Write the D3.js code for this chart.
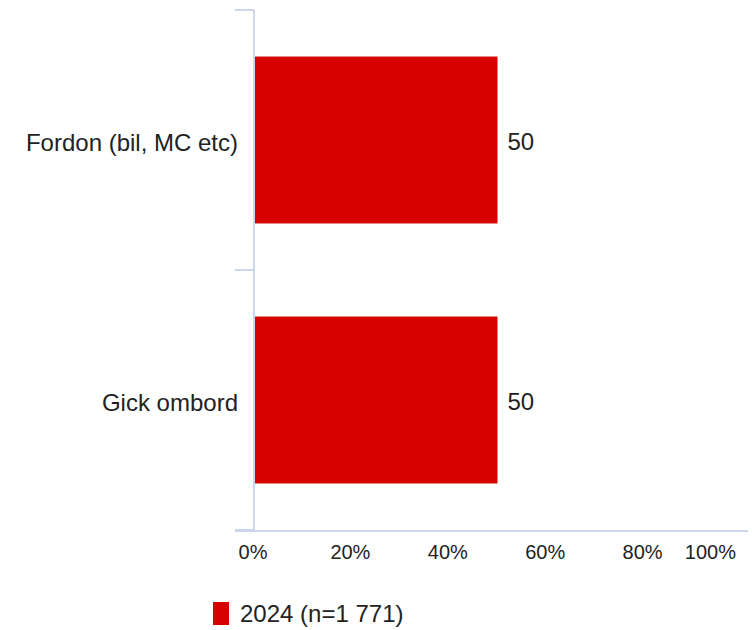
<!DOCTYPE html>
<html><head><meta charset="utf-8">
<script src="https://cdn.jsdelivr.net/npm/d3@7"></script>
<style>body{margin:0;background:#fff;}svg{display:block;font-family:"Liberation Sans",Arial,sans-serif;}</style>
</head><body>
<svg id="c" width="752" height="630"></svg>
<script>
const categories = ["Fordon (bil, MC etc)", "Gick ombord"];
const values = [50, 50];
const xTicks = [0, 20, 40, 60, 80, 100];
const seriesName = "2024 (n=1 771)";

const svg = d3.select("#c");
const axisColor = "#ccd6eb";
const textColor = "#222";
const barColor = "#d60000";

const x = d3.scaleLinear().domain([0, 100]).range([254, 741]);
const y = d3.scaleBand().domain(categories).range([10, 530]).paddingInner(0.358).paddingOuter(0.179);
const step = y.step();
const boundaries = categories.map(c => y(c) - step * y.paddingOuter()).concat([530]);

// axes lines
svg.append("line").attr("x1", 254).attr("x2", 254).attr("y1", 10).attr("y2", 531)
  .attr("stroke", axisColor).attr("stroke-width", 2);
svg.append("line").attr("x1", 235).attr("x2", 748).attr("y1", 531).attr("y2", 531)
  .attr("stroke", axisColor).attr("stroke-width", 2);
svg.selectAll(".ytick").data(boundaries).enter().append("line")
  .attr("x1", 235).attr("x2", 254).attr("y1", d => d).attr("y2", d => d)
  .attr("stroke", axisColor).attr("stroke-width", 2);

// bars
svg.selectAll(".bar").data(values).enter().append("rect")
  .attr("x", x(0) + 1).attr("y", (d, i) => y(categories[i]))
  .attr("width", d => x(d) - x(0) - 1).attr("height", y.bandwidth())
  .attr("fill", barColor);

// value labels
svg.selectAll(".val").data(values).enter().append("text")
  .attr("x", d => x(d) + 10).attr("y", (d, i) => y(categories[i]) + y.bandwidth() / 2 + 10)
  .attr("font-size", 24).attr("fill", textColor).text(d => d);

// category labels
svg.selectAll(".cat").data(categories).enter().append("text")
  .attr("x", 238).attr("y", d => y(d) + y.bandwidth() / 2 + 11)
  .attr("text-anchor", "end").attr("font-size", 24).attr("fill", textColor).text(d => d);

// x tick labels
svg.selectAll(".xt").data(xTicks).enter().append("text")
  .attr("x", d => d === 100 ? 736 : x(d) - 1)
  .attr("y", 559)
  .attr("text-anchor", d => d === 100 ? "end" : "middle")
  .attr("font-size", 20).attr("fill", textColor).text(d => d + "%");

// legend
svg.append("rect").attr("x", 213).attr("y", 602).attr("width", 16).attr("height", 23).attr("fill", barColor);
svg.append("text").attr("x", 240).attr("y", 622).attr("font-size", 24).attr("fill", textColor).text(seriesName);
</script>
</body></html>
